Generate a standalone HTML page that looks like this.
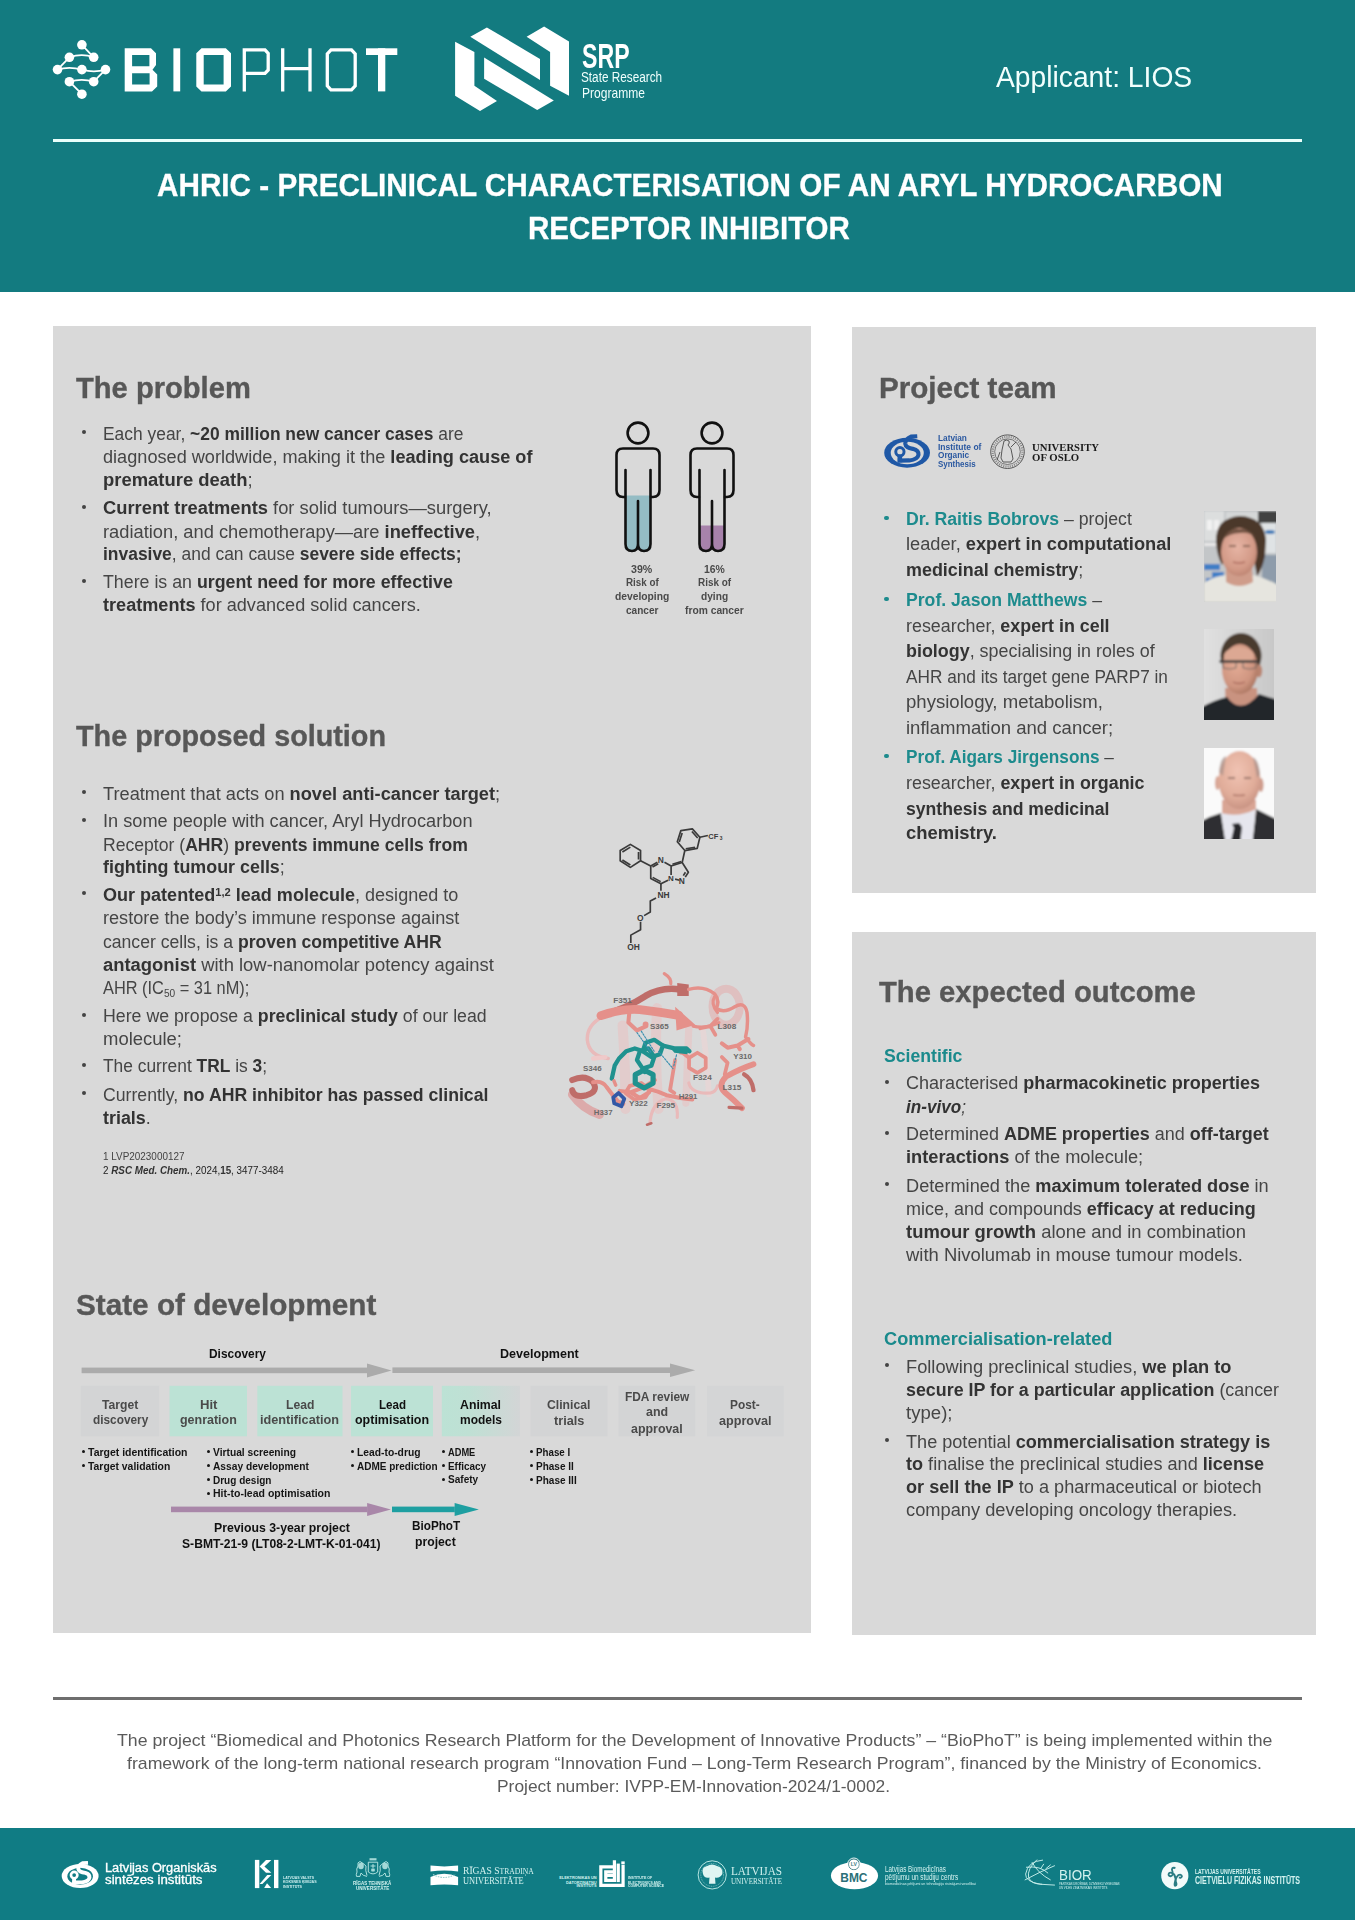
<!DOCTYPE html>
<html><head><meta charset="utf-8"><style>
html,body{margin:0;padding:0;}
body{width:1355px;height:1920px;position:relative;overflow:hidden;background:#fff;font-family:'Liberation Sans', sans-serif;}
.abs{position:absolute;}

.ln{position:absolute;white-space:nowrap;line-height:normal;transform-origin:0 0;}
.ln b{font-weight:bold;}
.ln b{color:#333;}
.ln b.t{color:#1d8b8d;}
.ln sup{font-size:62%;vertical-align:0;position:relative;top:-0.45em;}
.ln sub{font-size:62%;vertical-align:0;position:relative;top:0.25em;}

</style></head><body>
<div class="abs" style="left:0px;top:0px;width:1355px;height:292px;background:#137b80;"></div>
<div class="abs" style="left:53px;top:139px;width:1249px;height:3px;background:#eafffb;"></div>
<svg class="abs" style="left:0;top:0" width="420" height="130" viewBox="0 0 420 130"><g stroke="#fff" stroke-width="1.8" fill="none"><path d="M81.9 44.8 L93.7 57.3"/><path d="M69.4 57.3 Q81.9 53 93.7 57.3"/><path d="M57.5 69.6 L69.4 57.3"/><path d="M57.5 69.6 Q69 66 81.9 69.6 Q94 73 105.5 69.6"/><path d="M105.5 69.6 L93.7 81.7"/><path d="M69.4 81.7 Q81.9 78 93.7 81.7"/><path d="M69.4 81.7 L81.9 94.2"/></g><g fill="#fff"><circle cx="81.9" cy="44.8" r="4.8"/><circle cx="69.4" cy="57.3" r="4.8"/><circle cx="93.7" cy="57.3" r="4.8"/><circle cx="57.5" cy="69.6" r="4.8"/><circle cx="81.9" cy="69.6" r="4.8"/><circle cx="105.5" cy="69.6" r="4.8"/><circle cx="69.4" cy="81.7" r="4.8"/><circle cx="93.7" cy="81.7" r="4.8"/><circle cx="81.9" cy="94.2" r="4.8"/></g><path fill="#fff" fill-rule="evenodd" d="M124.7 48.3 H151 L156 53.3 V65 L152.5 69.8 L157.2 74.5 V86.4 L152 91.4 H124.7 Z M132.1 55.099999999999994 V66.3 H149.4 V55.099999999999994 Z M132.1 73.3 V84.60000000000001 H149.6 V73.3 Z"/><rect x="173.4" y="48.3" width="6.8" height="43.10000000000001" fill="#fff"/><path fill="#fff" fill-rule="evenodd" d="M201.5 48.3 H225.8 L231 53.3 V86.4 L225.8 91.4 H201.5 L196.3 86.4 V53.3 Z M203.7 55.099999999999994 V84.60000000000001 H223.6 V55.099999999999994 Z"/><g stroke="#fff" stroke-width="3.3" fill="none" stroke-linejoin="miter"><path d="M244.3 91.4 V49.9 H265 L268.2 53.3 V70 L265 73.3 H244.3"/><path d="M282.7 48.3 V91.4 M310 48.3 V91.4 M282.7 68.6 H310"/><path d="M331 49.9 H351.5 L355.2 53.8 V85.9 L351.5 89.80000000000001 H331 L327.3 85.9 V53.8 Z"/></g><rect x="366" y="48.3" width="31.3" height="6.7" fill="#fff"/><rect x="378" y="48.3" width="7.3" height="43.10000000000001" fill="#fff"/></svg>
<svg class="abs" style="left:0;top:0" width="700" height="130" viewBox="0 0 700 130"><g fill="#fff"><polygon points="455.1,41.8 474.4,52 474.4,85.7 497,100.9 480,111 455.1,95.8"/><polygon points="470.3,36.8 486.9,27.4 540,58.9 540,80.1"/><polygon points="484.1,57.5 553.8,100.4 537.2,110.1 484.1,78.7"/><polygon points="526.6,36.8 544.1,26.6 569,41.4 569,95.8 550.1,85.7 550.1,52"/></g></svg>
<div class="abs" style="left:53px;top:326px;width:758px;height:1307px;background:#d9d9d9;"></div>
<div class="abs" style="left:852px;top:327px;width:464px;height:566px;background:#d9d9d9;"></div>
<div class="abs" style="left:852px;top:932px;width:464px;height:703px;background:#d9d9d9;"></div>
<div class="abs" style="left:53px;top:1697px;width:1249px;height:3px;background:#6e6e6e;"></div>
<div class="abs" style="left:0px;top:1828px;width:1355px;height:92px;background:#107c84;"></div>
<div class="abs" style="left:81.9px;top:430.1px;width:4.2px;height:4.2px;border-radius:50%;background:#444"></div><div class="abs" style="left:81.9px;top:504.6px;width:4.2px;height:4.2px;border-radius:50%;background:#444"></div><div class="abs" style="left:81.9px;top:578.6px;width:4.2px;height:4.2px;border-radius:50%;background:#444"></div><div class="abs" style="left:81.9px;top:790.3px;width:4.2px;height:4.2px;border-radius:50%;background:#444"></div><div class="abs" style="left:81.9px;top:817.9px;width:4.2px;height:4.2px;border-radius:50%;background:#444"></div><div class="abs" style="left:81.9px;top:891.2px;width:4.2px;height:4.2px;border-radius:50%;background:#444"></div><div class="abs" style="left:81.9px;top:1012.7px;width:4.2px;height:4.2px;border-radius:50%;background:#444"></div><div class="abs" style="left:81.9px;top:1063.0px;width:4.2px;height:4.2px;border-radius:50%;background:#444"></div><div class="abs" style="left:81.9px;top:1091.3px;width:4.2px;height:4.2px;border-radius:50%;background:#444"></div>
<div class="abs" style="left:884.4px;top:515.8px;width:4.2px;height:4.2px;border-radius:50%;background:#1d8b8d"></div><div class="abs" style="left:884.4px;top:596.8px;width:4.2px;height:4.2px;border-radius:50%;background:#1d8b8d"></div><div class="abs" style="left:884.4px;top:753.9px;width:4.2px;height:4.2px;border-radius:50%;background:#1d8b8d"></div>
<div class="abs" style="left:884.9px;top:1079.8px;width:4.2px;height:4.2px;border-radius:50%;background:#444"></div><div class="abs" style="left:884.9px;top:1131.0px;width:4.2px;height:4.2px;border-radius:50%;background:#444"></div><div class="abs" style="left:884.9px;top:1182.1px;width:4.2px;height:4.2px;border-radius:50%;background:#444"></div><div class="abs" style="left:884.9px;top:1363.2px;width:4.2px;height:4.2px;border-radius:50%;background:#444"></div><div class="abs" style="left:884.9px;top:1438.2px;width:4.2px;height:4.2px;border-radius:50%;background:#444"></div>
<svg class="abs" style="left:560px;top:400px" width="240" height="240" viewBox="0 0 240 240"><rect x="65.5" y="95.5" width="25" height="54.5" fill="#94bcc4"/><g fill="none" stroke="#111" stroke-width="2.6" stroke-linejoin="round" stroke-linecap="round"><circle cx="78" cy="33" r="10.4"/><path d="M65 97 L63 97 Q56.5 97 56.5 90 V55 Q56.5 48.5 63 48.5 H93 Q99.5 48.5 99.5 55 V90 Q99.5 97 93 97 L91 97"/><path d="M65.5 70 V144 Q65.5 151 72 151 Q78 151 78 144 V101 M78 144 Q78 151 84 151 Q90.5 151 90.5 144 V70"/></g><rect x="139.5" y="125.5" width="25" height="24.5" fill="#a782ab"/><g fill="none" stroke="#111" stroke-width="2.6" stroke-linejoin="round" stroke-linecap="round"><circle cx="152" cy="33" r="10.4"/><path d="M139 97 L137 97 Q130.5 97 130.5 90 V55 Q130.5 48.5 137 48.5 H167 Q173.5 48.5 173.5 55 V90 Q173.5 97 167 97 L165 97"/><path d="M139.5 70 V144 Q139.5 151 146 151 Q152 151 152 144 V101 M152 144 Q152 151 158 151 Q164.5 151 164.5 144 V70"/></g></svg>
<svg class="abs" style="left:0;top:1340px" width="811" height="200" viewBox="0 1340 811 200"><rect x="81.6" y="1367.6" width="286" height="5.6" fill="#ababab"/><polygon points="367,1363.5 391.6,1370.4 367,1377.4" fill="#ababab"/><rect x="392.4" y="1367.4" width="278" height="5.6" fill="#ababab"/><polygon points="670,1363.5 695.2,1370.2 670,1377" fill="#ababab"/><defs><linearGradient id="g5" x1="0" x2="1" y1="0" y2="0"><stop offset="0" stop-color="#bce2d5"/><stop offset="0.35" stop-color="#bfe0d4"/><stop offset="1" stop-color="#d3d5d6"/></linearGradient></defs><rect x="80.8" y="1385.8" width="78.3" height="50.5" fill="#d3d4d5"/><rect x="169.5" y="1385.8" width="77.5" height="50.5" fill="#bce2d5"/><rect x="257.3" y="1385.8" width="85.2" height="50.5" fill="#bce2d5"/><rect x="351" y="1385.8" width="82.0" height="50.5" fill="#bce2d5"/><rect x="441.8" y="1385.8" width="78.2" height="50.5" fill="url(#g5)"/><rect x="530.5" y="1385.8" width="77.0" height="50.5" fill="#d3d4d5"/><rect x="618.5" y="1385.8" width="76.7" height="50.5" fill="#d3d4d5"/><rect x="707" y="1385.8" width="76.8" height="50.5" fill="#d4d5d6"/><rect x="171" y="1506.6" width="196.5" height="5.6" fill="#a987a9"/><polygon points="367.1,1503 390.9,1509.4 367.1,1516" fill="#a987a9"/><rect x="392" y="1506.6" width="62.8" height="5.6" fill="#1e9fa1"/><polygon points="454.6,1503 478.9,1509.4 454.6,1516" fill="#1e9fa1"/></svg>
<svg class="abs" style="left:1200px;top:505px" width="80" height="340" viewBox="1200 505 80 340"><defs><radialGradient id="sk1" cx="0.45" cy="0.4" r="0.65"><stop offset="0" stop-color="#e6b4a4"/><stop offset="0.7" stop-color="#d39a87"/><stop offset="1" stop-color="#b9806e"/></radialGradient><radialGradient id="sk2" cx="0.4" cy="0.4" r="0.65"><stop offset="0" stop-color="#e4ac96"/><stop offset="0.7" stop-color="#cf9580"/><stop offset="1" stop-color="#a97560"/></radialGradient><radialGradient id="sk3" cx="0.45" cy="0.35" r="0.65"><stop offset="0" stop-color="#f0c3b3"/><stop offset="0.7" stop-color="#e0ac99"/><stop offset="1" stop-color="#c99484"/></radialGradient><linearGradient id="bg2" x1="0" x2="1"><stop offset="0" stop-color="#e2e2e2"/><stop offset="1" stop-color="#c6c6c6"/></linearGradient><filter id="bl" x="-10%" y="-10%" width="120%" height="120%"><feGaussianBlur stdDeviation="0.8"/></filter></defs><clipPath id="c1"><rect x="1204" y="511" width="72" height="91"/></clipPath><g clip-path="url(#c1)"><g filter="url(#bl)"><rect x="1200" y="505" width="80" height="100" fill="#c3c6c8"/><rect x="1204" y="511" width="20" height="30" fill="#dcdede"/><rect x="1207" y="520" width="5" height="10" fill="#f2f2f2"/><rect x="1214" y="520" width="5" height="10" fill="#f0f0f0"/><rect x="1204" y="543" width="20" height="3" fill="#e8e8e8"/><rect x="1226" y="512" width="32" height="10" fill="#d5d8d8"/><rect x="1258" y="511" width="20" height="12" fill="#424242"/><rect x="1262" y="523" width="14" height="30" fill="#dfe3e5"/><rect x="1262" y="555" width="16" height="30" fill="#8e9cab"/><ellipse cx="1270" cy="532" rx="5" ry="2" fill="#3a7ab8"/><path d="M1204 564 h16 v6 h-16 Z M1212 572 h12 v6 h-12 Z M1206 578 h10 v5 h-10 Z" fill="#3f7ec6"/><path d="M1204 602 V583 Q1214 576 1226 575 Q1239 592 1253 575 Q1266 578 1278 585 V602 Z" fill="#e6e5df"/><path d="M1226 568 L1226 582 Q1239 590 1253 582 L1252 568 Z" fill="#cf9c8a"/><path d="M1216 542 Q1215 518 1240 516 Q1264 517 1266 540 L1265 556 Q1262 570 1257 576 L1254 560 L1224 560 L1222 565 Q1217 556 1216 542 Z" fill="#4c372a"/><ellipse cx="1239" cy="552" rx="18" ry="24" fill="url(#sk1)"/><path d="M1222 540 Q1226 527 1240 529 Q1252 528 1257 538 Q1250 532 1240 533 Q1230 533 1222 540 Z" fill="#5a4232" opacity="0.8"/><path d="M1229 546 h7 M1243 546 h7" stroke="#7a5a4a" stroke-width="1.3"/><path d="M1233 562 q6 2 12 0" stroke="#b06e60" stroke-width="1.4" fill="none"/></g></g><clipPath id="c2"><rect x="1204" y="629" width="70" height="91"/></clipPath><g clip-path="url(#c2)"><g filter="url(#bl)"><rect x="1200" y="625" width="80" height="100" fill="url(#bg2)"/><path d="M1225 688 L1226 712 Q1241 718 1258 712 L1257 688 Z" fill="#c99380"/><path d="M1200 725 V708 Q1214 700 1227 697 Q1241 716 1259 694 Q1268 697 1278 700 V725 Z" fill="#24252b"/><ellipse cx="1241" cy="656" rx="20.5" ry="23" fill="#4a3a2f"/><ellipse cx="1259" cy="671" rx="3.2" ry="6.5" fill="#b98470"/><ellipse cx="1240" cy="669" rx="18" ry="25" fill="url(#sk2)"/><ellipse cx="1239" cy="656" rx="15" ry="9" fill="#dca893"/><path d="M1219.5 661.5 H1258.5" stroke="#3a3a3a" stroke-width="2.6"/><path d="M1223 663 v5 q7 2 13 0 v-5 M1243 663 v5 q7 2 13 0 v-5" stroke="#5a5a5a" stroke-width="0.8" fill="none"/><path d="M1233 682 q6 3 12 0" stroke="#a86a5c" stroke-width="1.3" fill="none"/></g></g><clipPath id="c3"><rect x="1204" y="748" width="70" height="91"/></clipPath><g clip-path="url(#c3)"><g filter="url(#bl)"><rect x="1200" y="744" width="80" height="100" fill="#fafafa"/><path d="M1222 800 L1222 816 Q1239 822 1256 816 L1256 800 Z" fill="#d9a594"/><path d="M1200 845 V822 Q1210 816 1221 813 L1226 845 Z M1278 845 V820 Q1266 814 1256 809 L1252 845 Z" fill="#2f2f31"/><path d="M1221 813 L1226 845 H1252 L1256 809 Q1239 818 1221 813 Z" fill="#e6e6ee"/><path d="M1232 824 L1239 823 L1242 827 L1240 845 L1230 845 L1234 828 Z" fill="#25252b"/><ellipse cx="1217.5" cy="783" rx="2.6" ry="7" fill="#d9a898"/><ellipse cx="1261" cy="785" rx="2.6" ry="7" fill="#cf9c8c"/><ellipse cx="1239.5" cy="780" rx="21" ry="29" fill="url(#sk3)"/><path d="M1219 772 Q1220 758 1226 756 L1223 776 Z M1260 774 Q1259 760 1253 757 L1257 778 Z" fill="#a9928a" opacity="0.7"/><path d="M1228 778 h7 M1244 778 h7" stroke="#8a6a60" stroke-width="1.3"/><path d="M1233 795 q6 1 12 0" stroke="#b07a6c" stroke-width="1.3" fill="none"/></g></g></svg>
<svg class="abs" style="left:878px;top:430px" width="112" height="45" viewBox="0 0 1355 544"><ellipse cx="352" cy="275" rx="277" ry="180" fill="#1f58a6"/><ellipse cx="354" cy="278" rx="200" ry="135" fill="#d9d9d9"/><path d="M475 75 L400 80 Q328 112 330 165 Q336 214 422 228 Q494 246 490 300 Q478 356 380 368 L240 370" fill="none" stroke="#1f58a6" stroke-width="50"/><circle cx="265" cy="262" r="50" fill="none" stroke="#1f58a6" stroke-width="36"/><rect x="236" y="300" width="56" height="90" fill="#1f58a6"/></svg><svg class="abs" style="left:985px;top:430px" width="45" height="45" viewBox="985 430 45 45"><g fill="none" stroke="#4a4a4a"><circle cx="1007.5" cy="451.7" r="16.8" stroke-width="0.9"/><circle cx="1007.5" cy="451.7" r="12.8" stroke-width="0.7"/><circle cx="1007.5" cy="451.7" r="14.8" stroke-width="2.2" stroke-dasharray="1 1.2" opacity="0.6"/><path d="M1004 441 q3 -2 5 0 q1 2 -1 4 l3 4 l2 10 l-2 3 h-8 l-2 -4 l1 -8 z M1011 447 l5 -5 M1000 452 l-3 8" stroke-width="0.9"/></g></svg>
<svg class="abs" style="left:610px;top:820px" width="120" height="140" viewBox="0 0 1355 1581"><g stroke="#3a3a3a" stroke-width="19" fill="none" stroke-linejoin="round" stroke-linecap="butt"><path d="M115 345 L230 275 L345 345 L345 460 L230 535 L115 460 Z"/><path d="M140 362 L230 306 M322 360 L322 445 M230 508 L140 452"/><path d="M345 460 L460 520"/><path d="M460 520 L535 478 M615 478 L690 520 L690 620 M655 680 L575 720 L460 660 L460 520"/><path d="M480 530 L545 494 M482 648 L572 696"/><path d="M690 520 L815 480 L885 590 L850 645 M735 668 L785 680 M690 520"/><path d="M705 500 L805 468 M852 590 L828 628"/><path d="M815 480 L845 345 L760 245 L800 120 L930 100 L1015 195 L985 320 L845 345"/><path d="M782 248 L815 148 M925 130 L990 203 M960 310 L855 325"/><path d="M1015 195 L1105 175"/><path d="M575 720 L575 800"/><path d="M520 880 L455 915 L455 1040 L385 1080"/><path d="M345 1150 L345 1240 L235 1300 L235 1390"/></g><g fill="#3a3a3a" font-family="Liberation Sans, sans-serif" font-weight="bold"><text x="540" y="485" font-size="95">N</text><text x="655" y="690" font-size="90">N</text><text x="775" y="720" font-size="95">N</text><text x="535" y="878" font-size="95">NH</text><text x="305" y="1140" font-size="95">O</text><text x="195" y="1465" font-size="95">OH</text><text x="1110" y="215" font-size="85">CF</text><text x="1240" y="228" font-size="55">3</text></g></svg>
<svg class="abs" style="left:565px;top:965px" width="195" height="165" viewBox="0 0 1355 1147"><g fill="none" stroke-linecap="round" stroke-linejoin="round"><path d="M400 420 Q420 700 420 1000" stroke="#e2cccc" stroke-width="70"/><path d="M640 300 Q620 650 650 1000" stroke="#e2cccc" stroke-width="70"/><path d="M860 440 Q850 700 840 960" stroke="#e2cccc" stroke-width="50"/><path d="M960 460 Q990 700 1000 900" stroke="#e5d6d6" stroke-width="40"/><ellipse cx="1120" cy="290" rx="95" ry="125" stroke="#dfc0c0" stroke-width="55"/><path d="M260 360 Q150 420 155 520 Q165 630 300 650" stroke="#e9baba" stroke-width="24"/><path d="M590 1100 Q600 960 700 930 Q790 940 780 1060" stroke="#e9baba" stroke-width="22"/><path d="M860 820 Q880 900 1010 890 Q1050 880 1060 840" stroke="#e9baba" stroke-width="22"/><path d="M50 900 Q120 1000 240 1040" stroke="#dcaaaa" stroke-width="60"/><path d="M250 352 Q430 300 560 215 Q670 150 800 170" stroke="#bf6d69" stroke-width="46"/><polygon points="780,125 860,135 860,215 780,215" fill="#bf6d69"/><path d="M690 60 Q740 90 735 130" stroke="#e5908a" stroke-width="22"/><path d="M860 170 Q960 140 1040 200 Q1080 250 1050 300 Q1100 340 1180 290 Q1250 250 1265 330 Q1275 420 1255 500 Q1290 550 1310 560" stroke="#e5908a" stroke-width="24"/><path d="M1040 220 Q1010 270 1060 330" stroke="#e5908a" stroke-width="22"/><path d="M250 352 Q400 300 520 310 Q650 325 790 350" stroke="#e5908a" stroke-width="62"/><polygon points="765,290 905,415 775,455" fill="#e5908a"/><path d="M890 425 Q980 445 1070 400" stroke="#e5908a" stroke-width="22"/><path d="M450 300 L440 400 L500 455 L565 425" stroke="#e5908a" stroke-width="28"/><circle cx="560" cy="412" r="20" fill="#e5908a"/><path d="M940 440 L1010 425 L1045 485 M1010 425 L1060 375" stroke="#e5908a" stroke-width="26"/><path d="M1090 545 L1130 575 L1200 560 L1275 515 M1200 560 L1215 585" stroke="#e5908a" stroke-width="28"/><path d="M1090 640 L1130 680 L1110 760" stroke="#e5908a" stroke-width="26"/><polygon points="920,610 978,645 978,715 920,750 862,715 862,645" stroke="#e5908a" stroke-width="26"/><path d="M810 605 L862 645" stroke="#e5908a" stroke-width="26"/><circle cx="808" cy="605" r="18" fill="#e5908a"/><path d="M765 660 L745 780 L730 870 L760 890" stroke="#e5908a" stroke-width="26"/><path d="M280 640 L195 650" stroke="#efc9c9" stroke-width="30"/><path d="M50 800 Q140 760 195 815 Q235 880 150 905 Q60 925 50 870" stroke="#bf6d69" stroke-width="42"/><path d="M195 815 Q260 800 290 850 Q330 905 365 945 L405 965" stroke="#e5908a" stroke-width="28"/><path d="M380 875 L455 885 L545 850 L625 800 M455 885 L520 925 L585 885 M545 850 L645 880 L705 905 Q790 925 885 935" stroke="#e5908a" stroke-width="28"/><polygon points="450,840 530,820 590,870 560,920 480,935 420,890" stroke="#e5908a" stroke-width="26"/><path d="M1310 690 Q1220 720 1120 775 Q1060 835 1110 885 Q1170 935 1230 995" stroke="#e5908a" stroke-width="40"/><path d="M1310 870 Q1300 790 1245 760" stroke="#bf6d69" stroke-width="30"/><path d="M1140 990 L1230 995" stroke="#bf6d69" stroke-width="22"/><path d="M600 1100 L570 1110" stroke="#bf6d69" stroke-width="18"/><g stroke="#1f928f" stroke-width="30"><path d="M325 790 L345 700 L375 650 L425 600 L485 580 L545 600"/><polygon points="560,540 620,520 680,560 660,620 600,640 540,600"/><polygon points="520,600 580,580 620,640 600,700 540,720 500,660"/><path d="M680 560 L760 580 L845 580 L865 600"/><path d="M560 720 L555 745"/><polygon points="550,730 612,762 612,822 550,855 488,822 488,762" stroke-width="36"/></g><path d="M740 585 L860 590 L850 620 L760 610 Z" fill="#1f928f"/><path d="M340 805 L352 835" stroke="#e5908a" stroke-width="24"/><path d="M335 920 L372 890 L412 930 L392 982 L342 962 Z" stroke="#3358a6" stroke-width="26"/><path d="M500 470 L600 610 M530 460 L620 600 M650 600 L750 720 M775 625 L755 705" stroke="#3a8fb0" stroke-width="8" stroke-dasharray="12 10"/></g><g fill="#6a6a6a" font-family="Liberation Sans, sans-serif" font-weight="bold" font-size="54"><text x="335" y="262" textLength="130" lengthAdjust="spacingAndGlyphs">F351</text><text x="590" y="442" textLength="130" lengthAdjust="spacingAndGlyphs">S365</text><text x="1060" y="442" textLength="130" lengthAdjust="spacingAndGlyphs">L308</text><text x="1170" y="652" textLength="130" lengthAdjust="spacingAndGlyphs">Y310</text><text x="125" y="737" textLength="130" lengthAdjust="spacingAndGlyphs">S346</text><text x="890" y="802" textLength="130" lengthAdjust="spacingAndGlyphs">F324</text><text x="1095" y="867" textLength="130" lengthAdjust="spacingAndGlyphs">L315</text><text x="790" y="932" textLength="130" lengthAdjust="spacingAndGlyphs">H291</text><text x="445" y="982" textLength="130" lengthAdjust="spacingAndGlyphs">Y322</text><text x="635" y="992" textLength="130" lengthAdjust="spacingAndGlyphs">F295</text><text x="200" y="1042" textLength="130" lengthAdjust="spacingAndGlyphs">H337</text></g></svg>
<svg class="abs" style="left:0;top:1840px" width="1355" height="70" viewBox="0 1840 1355 70"><g transform="translate(61.5,1862.3) scale(0.0666)"><ellipse cx="280" cy="205" rx="277" ry="180" fill="#ffffff"/><ellipse cx="280" cy="210" rx="192" ry="128" fill="#107c84"/><path d="M398 8 L323 12 Q243 50 253 102 Q268 150 358 158 Q426 175 420 230 Q408 290 308 302 L163 302" fill="none" stroke="#ffffff" stroke-width="58"/><circle cx="190" cy="192" r="48" fill="none" stroke="#ffffff" stroke-width="40"/><rect x="160" y="230" width="58" height="90" fill="#ffffff"/></g><rect x="254.9" y="1859.9" width="4.4" height="28.2" fill="#ffffff"/><rect x="274" y="1859.9" width="4.4" height="28.2" fill="#ffffff"/><polygon points="266,1859.9 271.4,1859.9 264.4,1866.4 271.4,1872.8 266,1872.8 259.6,1866.4" fill="#ffffff"/><polygon points="267.3,1875.1 271.4,1875.1 262.4,1883.9 259.6,1883.9" fill="#ffffff"/><polygon points="267,1883.2 271.2,1888.1 264.2,1888.1" fill="#ffffff"/><g fill="none" stroke="#c8f0ec" stroke-width="0.9" opacity="0.95"><path d="M368.3 1862.2 H377.7 V1872 Q373 1875.8 368.3 1872 Z"/><path d="M370.5 1866 h5 M373 1864 v8 M371 1869 l4 2 M375 1869 l-4 2"/><path d="M367 1875.5 Q365 1870 366 1866 Q363 1863 360 1861.5 Q357 1862 358 1866 Q356 1869 357 1872 Q355.8 1875 356.5 1876.4 L360 1876.4 L361 1873 Q363 1876 367 1876.4"/><path d="M379 1875.5 Q381 1870 380 1866 Q383 1863 386 1861.5 Q389 1862 388 1866 Q390 1869 389 1872 Q390.2 1875 389.5 1876.4 L386 1876.4 L385 1873 Q383 1876 379 1876.4"/></g><g fill="#c8f0ec" opacity="0.8"><ellipse cx="361" cy="1866" rx="2.8" ry="3.2"/><ellipse cx="385" cy="1866" rx="2.8" ry="3.2"/><rect x="369.5" y="1858.2" width="7" height="2.2"/></g><path d="M430.5 1865.6 Q444.3 1867.2 458.1 1865.6 V1871.6 Q444.3 1869.6 430.5 1871.6 Z" fill="#ffffff"/><path d="M430.5 1877 Q444.3 1870.5 458.1 1877 V1885.2 Q444.3 1883.6 430.5 1885.2 Z" fill="#ffffff"/><path d="M433 1874.5 Q444.3 1880.5 455.6 1874.5" stroke="#9ccfcf" stroke-width="1.1" fill="none" stroke-dasharray="1.6 1"/><g transform="translate(555,1855) scale(0.08489)" fill="none" stroke="#fff" stroke-width="38" stroke-linecap="square"><path d="M700 140 H540 V357 H802 V135"/><path d="M700 80 V300 H598 V198 H680"/><path d="M620 240 H670"/><path d="M745 120 V300"/></g><rect x="621.3" y="1861.4" width="3.4" height="2.8" fill="#fff"/><circle cx="712.2" cy="1874.9" r="14.1" fill="none" stroke="#c8f0ec" stroke-width="0.9"/><circle cx="712.2" cy="1874.9" r="11.4" fill="none" stroke="#c8f0ec" stroke-width="0.5" stroke-dasharray="1 0.8"/><path d="M703 1874 Q701 1867 707 1866 Q712 1863 717 1866 Q723 1867 722.4 1874 Q720 1878.5 715 1877.5 L715.5 1883.8 H709 L709.5 1877.5 Q704 1878.5 703 1874 Z" fill="#dff5f2"/><ellipse cx="854.5" cy="1875.7" rx="23.6" ry="13.6" fill="#ffffff"/><circle cx="853.9" cy="1864.4" r="5.4" fill="#fff" stroke="#3f7f86" stroke-width="0.9"/><circle cx="853.9" cy="1864.4" r="6.4" fill="none" stroke="#fff" stroke-width="0.9"/><text x="853.9" y="1866.4" font-size="5.2" fill="#3f7f86" text-anchor="middle" font-family="Liberation Sans, sans-serif" font-weight="bold">LV</text><text x="840.3" y="1881.6" font-size="12.5" font-weight="bold" fill="#2b6f78" font-family="Liberation Sans, sans-serif" textLength="27.2" lengthAdjust="spacingAndGlyphs">BMC</text><g fill="none" stroke="#c8f0ec" stroke-width="11" transform="translate(1015,1852) scale(0.08489)"><path d="M330 95 Q150 110 125 260 Q120 350 300 380 L470 390"/><path d="M260 90 Q140 200 160 300 Q190 380 320 380"/><path d="M130 180 Q300 160 390 250"/><path d="M115 330 Q300 230 470 160"/><path d="M200 120 Q270 250 420 330"/><path d="M300 200 L340 140 M360 200 L420 150"/></g><circle cx="1174.8" cy="1875.7" r="13.6" fill="#f2fbfa"/><g transform="translate(1150,1855) scale(0.11808)" fill="none" stroke="#2b7d84" stroke-width="16"><path d="M215 110 Q175 100 190 140 Q200 175 175 180 Q150 175 160 155 Q175 140 205 165 Q225 200 210 235 Q205 260 215 260 Q230 255 220 230 Q210 200 240 170 Q265 160 270 180 Q265 200 245 190"/></g></svg>
<div class="abs" style="left:81.7px;top:1450.2px;width:3.2px;height:3.2px;border-radius:50%;background:#151515"></div><div class="abs" style="left:81.7px;top:1464.1px;width:3.2px;height:3.2px;border-radius:50%;background:#151515"></div><div class="abs" style="left:206.9px;top:1450.2px;width:3.2px;height:3.2px;border-radius:50%;background:#151515"></div><div class="abs" style="left:206.9px;top:1464.1px;width:3.2px;height:3.2px;border-radius:50%;background:#151515"></div><div class="abs" style="left:206.9px;top:1477.9px;width:3.2px;height:3.2px;border-radius:50%;background:#151515"></div><div class="abs" style="left:206.9px;top:1491.7px;width:3.2px;height:3.2px;border-radius:50%;background:#151515"></div><div class="abs" style="left:350.9px;top:1450.2px;width:3.2px;height:3.2px;border-radius:50%;background:#151515"></div><div class="abs" style="left:350.9px;top:1464.1px;width:3.2px;height:3.2px;border-radius:50%;background:#151515"></div><div class="abs" style="left:441.9px;top:1450.0px;width:3.2px;height:3.2px;border-radius:50%;background:#151515"></div><div class="abs" style="left:441.9px;top:1463.9px;width:3.2px;height:3.2px;border-radius:50%;background:#151515"></div><div class="abs" style="left:441.9px;top:1477.6px;width:3.2px;height:3.2px;border-radius:50%;background:#151515"></div><div class="abs" style="left:530.3px;top:1450.2px;width:3.2px;height:3.2px;border-radius:50%;background:#151515"></div><div class="abs" style="left:530.3px;top:1464.1px;width:3.2px;height:3.2px;border-radius:50%;background:#151515"></div><div class="abs" style="left:530.3px;top:1477.9px;width:3.2px;height:3.2px;border-radius:50%;background:#151515"></div>
<div class="ln" style="left:996.00px;top:59.65px;font-size:30px;font-family:'Liberation Sans', sans-serif;color:#f2fffd;transform:scaleX(0.9412);">Applicant: LIOS</div><div class="ln" style="left:156.50px;top:167.48px;font-size:32px;font-family:'Liberation Sans', sans-serif;color:#ffffff;font-weight:bold;-webkit-text-stroke:0.3px #fff;transform:scaleX(0.9280);">AHRIC - PRECLINICAL CHARACTERISATION OF AN ARYL HYDROCARBON</div><div class="ln" style="left:528.40px;top:209.58px;font-size:32px;font-family:'Liberation Sans', sans-serif;color:#ffffff;font-weight:bold;-webkit-text-stroke:0.3px #fff;transform:scaleX(0.9221);">RECEPTOR INHIBITOR</div><div class="ln" style="left:75.60px;top:370.75px;font-size:30px;font-family:'Liberation Sans', sans-serif;color:#575757;font-weight:bold;-webkit-text-stroke:0.35px #575757;transform:scaleX(0.9710);">The problem</div><div class="ln" style="left:102.80px;top:423.51px;font-size:17.5px;font-family:'Liberation Sans', sans-serif;color:#454545;transform:scaleX(0.9945);">Each year, <b>~20 million new cancer cases</b> are</div><div class="ln" style="left:102.80px;top:446.51px;font-size:17.5px;font-family:'Liberation Sans', sans-serif;color:#454545;transform:scaleX(1.0365);">diagnosed worldwide, making it the <b>leading cause of</b></div><div class="ln" style="left:102.80px;top:470.31px;font-size:17.5px;font-family:'Liberation Sans', sans-serif;color:#454545;transform:scaleX(1.0535);"><b>premature death</b>;</div><div class="ln" style="left:102.80px;top:498.01px;font-size:17.5px;font-family:'Liberation Sans', sans-serif;color:#454545;transform:scaleX(1.0472);"><b>Current treatments</b> for solid tumours—surgery,</div><div class="ln" style="left:102.80px;top:521.71px;font-size:17.5px;font-family:'Liberation Sans', sans-serif;color:#454545;transform:scaleX(1.0449);">radiation, and chemotherapy—are <b>ineffective</b>,</div><div class="ln" style="left:102.80px;top:544.01px;font-size:17.5px;font-family:'Liberation Sans', sans-serif;color:#454545;transform:scaleX(0.9962);"><b>invasive</b>, and can cause <b>severe side effects;</b></div><div class="ln" style="left:102.80px;top:572.01px;font-size:17.5px;font-family:'Liberation Sans', sans-serif;color:#454545;transform:scaleX(1.0160);">There is an <b>urgent need for more effective</b></div><div class="ln" style="left:102.80px;top:595.01px;font-size:17.5px;font-family:'Liberation Sans', sans-serif;color:#454545;transform:scaleX(1.0342);"><b>treatments</b> for advanced solid cancers.</div><div class="ln" style="left:75.90px;top:718.75px;font-size:30px;font-family:'Liberation Sans', sans-serif;color:#575757;font-weight:bold;-webkit-text-stroke:0.35px #575757;transform:scaleX(0.9588);">The proposed solution</div><div class="ln" style="left:103.20px;top:783.71px;font-size:17.5px;font-family:'Liberation Sans', sans-serif;color:#454545;transform:scaleX(1.0406);">Treatment that acts on <b>novel anti-cancer target</b>;</div><div class="ln" style="left:103.20px;top:811.31px;font-size:17.5px;font-family:'Liberation Sans', sans-serif;color:#454545;transform:scaleX(1.0379);">In some people with cancer, Aryl Hydrocarbon</div><div class="ln" style="left:103.20px;top:835.01px;font-size:17.5px;font-family:'Liberation Sans', sans-serif;color:#454545;transform:scaleX(1.0056);">Receptor (<b>AHR</b>) <b>prevents immune cells from</b></div><div class="ln" style="left:103.20px;top:857.41px;font-size:17.5px;font-family:'Liberation Sans', sans-serif;color:#454545;transform:scaleX(1.0217);"><b>fighting tumour cells</b>;</div><div class="ln" style="left:103.20px;top:884.61px;font-size:17.5px;font-family:'Liberation Sans', sans-serif;color:#454545;transform:scaleX(1.0304);"><b>Our patented<sup>1,2</sup> lead molecule</b>, designed to</div><div class="ln" style="left:103.20px;top:908.31px;font-size:17.5px;font-family:'Liberation Sans', sans-serif;color:#454545;transform:scaleX(1.0359);">restore the body’s immune response against</div><div class="ln" style="left:103.20px;top:931.71px;font-size:17.5px;font-family:'Liberation Sans', sans-serif;color:#454545;transform:scaleX(1.0056);">cancer cells, is a <b>proven competitive AHR</b></div><div class="ln" style="left:103.20px;top:954.71px;font-size:17.5px;font-family:'Liberation Sans', sans-serif;color:#454545;transform:scaleX(1.0518);"><b>antagonist</b> with low-nanomolar potency against</div><div class="ln" style="left:103.20px;top:977.81px;font-size:17.5px;font-family:'Liberation Sans', sans-serif;color:#454545;transform:scaleX(0.9349);">AHR (IC<sub>50</sub> = 31 nM);</div><div class="ln" style="left:103.20px;top:1006.11px;font-size:17.5px;font-family:'Liberation Sans', sans-serif;color:#454545;transform:scaleX(1.0140);">Here we propose a <b>preclinical study</b> of our lead</div><div class="ln" style="left:103.20px;top:1029.11px;font-size:17.5px;font-family:'Liberation Sans', sans-serif;color:#454545;transform:scaleX(1.0547);">molecule;</div><div class="ln" style="left:103.20px;top:1056.41px;font-size:17.5px;font-family:'Liberation Sans', sans-serif;color:#454545;transform:scaleX(0.9917);">The current <b>TRL</b> is <b>3</b>;</div><div class="ln" style="left:103.20px;top:1084.71px;font-size:17.5px;font-family:'Liberation Sans', sans-serif;color:#454545;transform:scaleX(1.0084);">Currently, <b>no AHR inhibitor has passed clinical</b></div><div class="ln" style="left:103.20px;top:1107.71px;font-size:17.5px;font-family:'Liberation Sans', sans-serif;color:#454545;transform:scaleX(1.0235);"><b>trials</b>.</div><div class="ln" style="left:102.50px;top:1150.11px;font-size:10.5px;font-family:'Liberation Sans', sans-serif;color:#444;transform:scaleX(0.9451);">1 LVP2023000127</div><div class="ln" style="left:102.50px;top:1164.21px;font-size:10.5px;font-family:'Liberation Sans', sans-serif;color:#222;transform:scaleX(0.9379);">2 <b><i>RSC Med. Chem.</i></b>, 2024,<b>15</b>, 3477-3484</div><div class="ln" style="left:75.70px;top:1287.65px;font-size:30px;font-family:'Liberation Sans', sans-serif;color:#575757;font-weight:bold;-webkit-text-stroke:0.35px #575757;transform:scaleX(0.9901);">State of development</div><div class="ln" style="left:208.70px;top:1345.99px;font-size:13px;font-family:'Liberation Sans', sans-serif;color:#111;font-weight:bold;transform:scaleX(0.9154);">Discovery</div><div class="ln" style="left:500.40px;top:1346.29px;font-size:13px;font-family:'Liberation Sans', sans-serif;color:#111;font-weight:bold;transform:scaleX(0.9652);">Development</div><div class="ln" style="left:879.20px;top:371.45px;font-size:30px;font-family:'Liberation Sans', sans-serif;color:#575757;font-weight:bold;-webkit-text-stroke:0.35px #575757;transform:scaleX(0.9868);">Project team</div><div class="ln" style="left:905.90px;top:509.21px;font-size:17.5px;font-family:'Liberation Sans', sans-serif;color:#454545;transform:scaleX(1.0094);"><b class='t'>Dr. Raitis Bobrovs</b> – project</div><div class="ln" style="left:905.90px;top:534.41px;font-size:17.5px;font-family:'Liberation Sans', sans-serif;color:#454545;transform:scaleX(1.0416);">leader, <b>expert in computational</b></div><div class="ln" style="left:905.90px;top:560.01px;font-size:17.5px;font-family:'Liberation Sans', sans-serif;color:#454545;transform:scaleX(1.0239);"><b>medicinal chemistry</b>;</div><div class="ln" style="left:905.90px;top:590.21px;font-size:17.5px;font-family:'Liberation Sans', sans-serif;color:#454545;transform:scaleX(1.0076);"><b class='t'>Prof. Jason Matthews</b> –</div><div class="ln" style="left:905.90px;top:616.01px;font-size:17.5px;font-family:'Liberation Sans', sans-serif;color:#454545;transform:scaleX(1.0210);">researcher, <b>expert in cell</b></div><div class="ln" style="left:905.90px;top:641.21px;font-size:17.5px;font-family:'Liberation Sans', sans-serif;color:#454545;transform:scaleX(1.0229);"><b>biology</b>, specialising in roles of</div><div class="ln" style="left:905.90px;top:667.11px;font-size:17.5px;font-family:'Liberation Sans', sans-serif;color:#454545;transform:scaleX(0.9838);">AHR and its target gene PARP7 in</div><div class="ln" style="left:905.90px;top:692.01px;font-size:17.5px;font-family:'Liberation Sans', sans-serif;color:#454545;transform:scaleX(1.0612);">physiology, metabolism,</div><div class="ln" style="left:905.90px;top:717.81px;font-size:17.5px;font-family:'Liberation Sans', sans-serif;color:#454545;transform:scaleX(1.0592);">inflammation and cancer;</div><div class="ln" style="left:905.90px;top:747.31px;font-size:17.5px;font-family:'Liberation Sans', sans-serif;color:#454545;transform:scaleX(0.9836);"><b class='t'>Prof. Aigars Jirgensons</b> –</div><div class="ln" style="left:905.90px;top:773.11px;font-size:17.5px;font-family:'Liberation Sans', sans-serif;color:#454545;transform:scaleX(1.0218);">researcher, <b>expert in organic</b></div><div class="ln" style="left:905.90px;top:799.01px;font-size:17.5px;font-family:'Liberation Sans', sans-serif;color:#454545;transform:scaleX(1.0059);"><b>synthesis and medicinal</b></div><div class="ln" style="left:905.90px;top:823.01px;font-size:17.5px;font-family:'Liberation Sans', sans-serif;color:#454545;transform:scaleX(1.0539);"><b>chemistry.</b></div><div class="ln" style="left:878.70px;top:975.25px;font-size:30px;font-family:'Liberation Sans', sans-serif;color:#575757;font-weight:bold;-webkit-text-stroke:0.35px #575757;transform:scaleX(0.9745);">The expected outcome</div><div class="ln" style="left:884.00px;top:1045.03px;font-size:18.5px;font-family:'Liberation Sans', sans-serif;color:#1a8a8c;font-weight:bold;transform:scaleX(0.9532);">Scientific</div><div class="ln" style="left:905.60px;top:1073.21px;font-size:17.5px;font-family:'Liberation Sans', sans-serif;color:#454545;transform:scaleX(1.0310);">Characterised <b>pharmacokinetic properties</b></div><div class="ln" style="left:905.60px;top:1096.51px;font-size:17.5px;font-family:'Liberation Sans', sans-serif;color:#454545;transform:scaleX(0.9775);"><b><i>in-vivo</i></b><i>;</i></div><div class="ln" style="left:905.60px;top:1124.41px;font-size:17.5px;font-family:'Liberation Sans', sans-serif;color:#454545;transform:scaleX(1.0274);">Determined <b>ADME properties</b> and <b>off-target</b></div><div class="ln" style="left:905.60px;top:1147.31px;font-size:17.5px;font-family:'Liberation Sans', sans-serif;color:#454545;transform:scaleX(1.0421);"><b>interactions</b> of the molecule;</div><div class="ln" style="left:905.60px;top:1175.51px;font-size:17.5px;font-family:'Liberation Sans', sans-serif;color:#454545;transform:scaleX(1.0387);">Determined the <b>maximum tolerated dose</b> in</div><div class="ln" style="left:905.60px;top:1199.41px;font-size:17.5px;font-family:'Liberation Sans', sans-serif;color:#454545;transform:scaleX(1.0272);">mice, and compounds <b>efficacy at reducing</b></div><div class="ln" style="left:905.60px;top:1221.71px;font-size:17.5px;font-family:'Liberation Sans', sans-serif;color:#454545;transform:scaleX(1.0532);"><b>tumour growth</b> alone and in combination</div><div class="ln" style="left:905.60px;top:1245.01px;font-size:17.5px;font-family:'Liberation Sans', sans-serif;color:#454545;transform:scaleX(1.0531);">with Nivolumab in mouse tumour models.</div><div class="ln" style="left:884.00px;top:1327.83px;font-size:18.5px;font-family:'Liberation Sans', sans-serif;color:#1a8a8c;font-weight:bold;transform:scaleX(0.9830);">Commercialisation-related</div><div class="ln" style="left:905.60px;top:1356.61px;font-size:17.5px;font-family:'Liberation Sans', sans-serif;color:#454545;transform:scaleX(1.0426);">Following preclinical studies, <b>we plan to</b></div><div class="ln" style="left:905.60px;top:1379.81px;font-size:17.5px;font-family:'Liberation Sans', sans-serif;color:#454545;transform:scaleX(1.0209);"><b>secure IP for a particular application</b> (cancer</div><div class="ln" style="left:905.60px;top:1403.11px;font-size:17.5px;font-family:'Liberation Sans', sans-serif;color:#454545;transform:scaleX(1.0621);">type);</div><div class="ln" style="left:905.60px;top:1431.61px;font-size:17.5px;font-family:'Liberation Sans', sans-serif;color:#454545;transform:scaleX(1.0346);">The potential <b>commercialisation strategy is</b></div><div class="ln" style="left:905.60px;top:1454.21px;font-size:17.5px;font-family:'Liberation Sans', sans-serif;color:#454545;transform:scaleX(1.0340);"><b>to</b> finalise the preclinical studies and <b>license</b></div><div class="ln" style="left:905.60px;top:1477.21px;font-size:17.5px;font-family:'Liberation Sans', sans-serif;color:#454545;transform:scaleX(1.0356);"><b>or sell the IP</b> to a pharmaceutical or biotech</div><div class="ln" style="left:905.60px;top:1500.41px;font-size:17.5px;font-family:'Liberation Sans', sans-serif;color:#454545;transform:scaleX(1.0440);">company developing oncology therapies.</div><div class="ln" style="left:116.80px;top:1730.65px;font-size:17px;font-family:'Liberation Sans', sans-serif;color:#5a5a5a;transform:scaleX(1.0406);">The project “Biomedical and Photonics Research Platform for the Development of Innovative Products” – “BioPhoT” is being implemented within the</div><div class="ln" style="left:126.60px;top:1753.65px;font-size:17px;font-family:'Liberation Sans', sans-serif;color:#5a5a5a;transform:scaleX(1.0400);">framework of the long-term national research program “Innovation Fund – Long-Term Research Program”, financed by the Ministry of Economics.</div><div class="ln" style="left:497.30px;top:1776.65px;font-size:17px;font-family:'Liberation Sans', sans-serif;color:#5a5a5a;transform:scaleX(1.0221);">Project number: IVPP-EM-Innovation-2024/1-0002.</div><div class="ln" style="left:102.30px;top:1396.89px;font-size:13px;font-family:'Liberation Sans', sans-serif;color:#4a4a4a;font-weight:bold;transform:scaleX(0.9338);">Target</div><div class="ln" style="left:92.70px;top:1412.39px;font-size:13px;font-family:'Liberation Sans', sans-serif;color:#4a4a4a;font-weight:bold;transform:scaleX(0.9110);">discovery</div><div class="ln" style="left:199.70px;top:1396.89px;font-size:13px;font-family:'Liberation Sans', sans-serif;color:#4a4a4a;font-weight:bold;transform:scaleX(1.0090);">Hit</div><div class="ln" style="left:179.80px;top:1412.39px;font-size:13px;font-family:'Liberation Sans', sans-serif;color:#4a4a4a;font-weight:bold;transform:scaleX(0.9589);">genration</div><div class="ln" style="left:285.70px;top:1396.89px;font-size:13px;font-family:'Liberation Sans', sans-serif;color:#4a4a4a;font-weight:bold;transform:scaleX(0.9359);">Lead</div><div class="ln" style="left:260.40px;top:1412.39px;font-size:13px;font-family:'Liberation Sans', sans-serif;color:#4a4a4a;font-weight:bold;transform:scaleX(0.9766);">identification</div><div class="ln" style="left:378.70px;top:1396.69px;font-size:13px;font-family:'Liberation Sans', sans-serif;color:#111;font-weight:bold;transform:scaleX(0.8898);">Lead</div><div class="ln" style="left:355.20px;top:1412.19px;font-size:13px;font-family:'Liberation Sans', sans-serif;color:#111;font-weight:bold;transform:scaleX(0.9588);">optimisation</div><div class="ln" style="left:459.90px;top:1396.69px;font-size:13px;font-family:'Liberation Sans', sans-serif;color:#111;font-weight:bold;transform:scaleX(0.9459);">Animal</div><div class="ln" style="left:459.60px;top:1412.19px;font-size:13px;font-family:'Liberation Sans', sans-serif;color:#111;font-weight:bold;transform:scaleX(0.9228);">models</div><div class="ln" style="left:547.00px;top:1397.09px;font-size:13px;font-family:'Liberation Sans', sans-serif;color:#4a4a4a;font-weight:bold;transform:scaleX(0.9384);">Clinical</div><div class="ln" style="left:553.50px;top:1413.29px;font-size:13px;font-family:'Liberation Sans', sans-serif;color:#4a4a4a;font-weight:bold;transform:scaleX(0.9782);">trials</div><div class="ln" style="left:625.00px;top:1388.79px;font-size:13px;font-family:'Liberation Sans', sans-serif;color:#4a4a4a;font-weight:bold;transform:scaleX(0.9143);">FDA review</div><div class="ln" style="left:645.90px;top:1404.49px;font-size:13px;font-family:'Liberation Sans', sans-serif;color:#4a4a4a;font-weight:bold;transform:scaleX(0.9557);">and</div><div class="ln" style="left:631.10px;top:1420.69px;font-size:13px;font-family:'Liberation Sans', sans-serif;color:#4a4a4a;font-weight:bold;transform:scaleX(0.9541);">approval</div><div class="ln" style="left:730.00px;top:1397.09px;font-size:13px;font-family:'Liberation Sans', sans-serif;color:#4a4a4a;font-weight:bold;transform:scaleX(0.9108);">Post-</div><div class="ln" style="left:718.80px;top:1413.29px;font-size:13px;font-family:'Liberation Sans', sans-serif;color:#4a4a4a;font-weight:bold;transform:scaleX(0.9707);">approval</div><div class="ln" style="left:87.80px;top:1445.82px;font-size:11.5px;font-family:'Liberation Sans', sans-serif;color:#151515;font-weight:bold;transform:scaleX(0.9125);">Target identification</div><div class="ln" style="left:87.80px;top:1459.72px;font-size:11.5px;font-family:'Liberation Sans', sans-serif;color:#151515;font-weight:bold;transform:scaleX(0.9027);">Target validation</div><div class="ln" style="left:213.00px;top:1445.82px;font-size:11.5px;font-family:'Liberation Sans', sans-serif;color:#151515;font-weight:bold;transform:scaleX(0.8914);">Virtual screening</div><div class="ln" style="left:213.00px;top:1459.72px;font-size:11.5px;font-family:'Liberation Sans', sans-serif;color:#151515;font-weight:bold;transform:scaleX(0.8878);">Assay development</div><div class="ln" style="left:213.00px;top:1473.52px;font-size:11.5px;font-family:'Liberation Sans', sans-serif;color:#151515;font-weight:bold;transform:scaleX(0.8704);">Drug design</div><div class="ln" style="left:213.00px;top:1487.32px;font-size:11.5px;font-family:'Liberation Sans', sans-serif;color:#151515;font-weight:bold;transform:scaleX(0.9142);">Hit-to-lead optimisation</div><div class="ln" style="left:357.00px;top:1445.82px;font-size:11.5px;font-family:'Liberation Sans', sans-serif;color:#151515;font-weight:bold;transform:scaleX(0.8955);">Lead-to-drug</div><div class="ln" style="left:357.00px;top:1459.72px;font-size:11.5px;font-family:'Liberation Sans', sans-serif;color:#151515;font-weight:bold;transform:scaleX(0.8700);">ADME prediction</div><div class="ln" style="left:448.00px;top:1445.62px;font-size:11.5px;font-family:'Liberation Sans', sans-serif;color:#151515;font-weight:bold;transform:scaleX(0.8059);">ADME</div><div class="ln" style="left:448.00px;top:1459.52px;font-size:11.5px;font-family:'Liberation Sans', sans-serif;color:#151515;font-weight:bold;transform:scaleX(0.8592);">Efficacy</div><div class="ln" style="left:448.00px;top:1473.22px;font-size:11.5px;font-family:'Liberation Sans', sans-serif;color:#151515;font-weight:bold;transform:scaleX(0.8746);">Safety</div><div class="ln" style="left:536.40px;top:1445.82px;font-size:11.5px;font-family:'Liberation Sans', sans-serif;color:#151515;font-weight:bold;transform:scaleX(0.8490);">Phase I</div><div class="ln" style="left:536.40px;top:1459.72px;font-size:11.5px;font-family:'Liberation Sans', sans-serif;color:#151515;font-weight:bold;transform:scaleX(0.8696);">Phase II</div><div class="ln" style="left:536.40px;top:1473.52px;font-size:11.5px;font-family:'Liberation Sans', sans-serif;color:#151515;font-weight:bold;transform:scaleX(0.8720);">Phase III</div><div class="ln" style="left:213.80px;top:1519.79px;font-size:13px;font-family:'Liberation Sans', sans-serif;color:#111;font-weight:bold;transform:scaleX(0.9444);">Previous 3-year project</div><div class="ln" style="left:182.00px;top:1535.99px;font-size:13px;font-family:'Liberation Sans', sans-serif;color:#111;font-weight:bold;transform:scaleX(0.9331);">S-BMT-21-9 (LT08-2-LMT-K-01-041)</div><div class="ln" style="left:411.80px;top:1518.09px;font-size:13px;font-family:'Liberation Sans', sans-serif;color:#111;font-weight:bold;transform:scaleX(0.9020);">BioPhoT</div><div class="ln" style="left:415.40px;top:1534.29px;font-size:13px;font-family:'Liberation Sans', sans-serif;color:#111;font-weight:bold;transform:scaleX(0.9390);">project</div><div class="ln" style="left:581.70px;top:35.93px;font-size:35px;font-family:'Liberation Sans', sans-serif;color:#ffffff;font-weight:bold;transform:scaleX(0.6614);">SRP</div><div class="ln" style="left:581.20px;top:68.46px;font-size:15.3px;font-family:'Liberation Sans', sans-serif;color:#f0fffd;transform:scaleX(0.7692);">State Research</div><div class="ln" style="left:581.50px;top:83.82px;font-size:15px;font-family:'Liberation Sans', sans-serif;color:#f0fffd;transform:scaleX(0.8027);">Programme</div><div class="ln" style="left:937.90px;top:434.34px;font-size:8.2px;font-family:'Liberation Sans', sans-serif;color:#2a58a0;font-weight:bold;transform:scaleX(1.0080);">Latvian</div><div class="ln" style="left:937.90px;top:442.94px;font-size:8.2px;font-family:'Liberation Sans', sans-serif;color:#2a58a0;font-weight:bold;transform:scaleX(1.0372);">Institute of</div><div class="ln" style="left:937.90px;top:451.24px;font-size:8.2px;font-family:'Liberation Sans', sans-serif;color:#2a58a0;font-weight:bold;transform:scaleX(1.0047);">Organic</div><div class="ln" style="left:937.90px;top:459.54px;font-size:8.2px;font-family:'Liberation Sans', sans-serif;color:#2a58a0;font-weight:bold;transform:scaleX(0.9719);">Synthesis</div><div class="ln" style="left:1031.80px;top:441.06px;font-size:11px;font-family:'Liberation Serif', serif;color:#1a1a1a;font-weight:bold;transform:scaleX(0.9699);">UNIVERSITY</div><div class="ln" style="left:1031.80px;top:450.87px;font-size:11px;font-family:'Liberation Serif', serif;color:#1a1a1a;font-weight:bold;transform:scaleX(0.9795);">OF OSLO</div><div class="ln" style="left:104.80px;top:1860.84px;font-size:12.5px;font-family:'Liberation Sans', sans-serif;color:#ffffff;-webkit-text-stroke:0.3px #fff;transform:scaleX(1.0231);">Latvijas Organiskās</div><div class="ln" style="left:104.80px;top:1873.24px;font-size:12.5px;font-family:'Liberation Sans', sans-serif;color:#ffffff;-webkit-text-stroke:0.3px #fff;transform:scaleX(1.0630);">sintēzes institūts</div><div class="ln" style="left:283.00px;top:1874.78px;font-size:4.2px;font-family:'Liberation Sans', sans-serif;color:#cdeeee;font-weight:bold;transform:scaleX(0.8308);">LATVIJAS VALSTS</div><div class="ln" style="left:283.00px;top:1879.48px;font-size:4.2px;font-family:'Liberation Sans', sans-serif;color:#cdeeee;font-weight:bold;transform:scaleX(0.8647);">KOKSNES ĶĪMIJAS</div><div class="ln" style="left:283.00px;top:1884.08px;font-size:4.2px;font-family:'Liberation Sans', sans-serif;color:#cdeeee;font-weight:bold;transform:scaleX(0.8780);">INSTITŪTS</div><div class="ln" style="left:353.40px;top:1879.60px;font-size:5.2px;font-family:'Liberation Sans', sans-serif;color:#d3f2ef;font-weight:bold;transform:scaleX(0.8628);">RĪGAS TEHNISKĀ</div><div class="ln" style="left:356.10px;top:1885.40px;font-size:5.2px;font-family:'Liberation Sans', sans-serif;color:#d3f2ef;font-weight:bold;transform:scaleX(0.8752);">UNIVERSITĀTE</div><div class="ln" style="left:463.20px;top:1864.81px;font-size:10.5px;font-family:'Liberation Serif', serif;color:#d3f2ef;transform:scaleX(0.9128);">RĪGAS S<span style='font-size:80%'>TRADIŅA</span></div><div class="ln" style="left:463.20px;top:1875.01px;font-size:10.5px;font-family:'Liberation Serif', serif;color:#d3f2ef;transform:scaleX(0.8005);">UNIVERSITĀTE</div><div class="ln" style="left:559.19px;top:1875.35px;font-size:3.9px;font-family:'Liberation Sans', sans-serif;color:#d3f2ef;font-weight:bold;">ELEKTRONIKAS UN</div><div class="ln" style="left:566.05px;top:1879.55px;font-size:3.9px;font-family:'Liberation Sans', sans-serif;color:#d3f2ef;font-weight:bold;">DATORZINĀTŅU</div><div class="ln" style="left:576.49px;top:1883.35px;font-size:3.9px;font-family:'Liberation Sans', sans-serif;color:#d3f2ef;font-weight:bold;">INSTITŪTS</div><div class="ln" style="left:627.60px;top:1875.35px;font-size:3.9px;font-family:'Liberation Sans', sans-serif;color:#d3f2ef;font-weight:bold;transform:scaleX(0.9100);">INSTITUTE OF</div><div class="ln" style="left:627.60px;top:1879.55px;font-size:3.9px;font-family:'Liberation Sans', sans-serif;color:#d3f2ef;font-weight:bold;transform:scaleX(0.8886);">ELECTRONICS AND</div><div class="ln" style="left:627.60px;top:1883.35px;font-size:3.9px;font-family:'Liberation Sans', sans-serif;color:#d3f2ef;font-weight:bold;transform:scaleX(0.8883);">COMPUTER SCIENCE</div><div class="ln" style="left:731.00px;top:1864.63px;font-size:11.6px;font-family:'Liberation Serif', serif;color:#d3f2ef;transform:scaleX(0.9654);">LATVIJAS</div><div class="ln" style="left:731.00px;top:1876.52px;font-size:8px;font-family:'Liberation Serif', serif;color:#d3f2ef;transform:scaleX(0.8826);">UNIVERSITĀTE</div><div class="ln" style="left:885.20px;top:1863.65px;font-size:8.3px;font-family:'Liberation Sans', sans-serif;color:#d3f2ef;transform:scaleX(0.7576);">Latvijas Biomedicīnas</div><div class="ln" style="left:885.20px;top:1871.85px;font-size:8.3px;font-family:'Liberation Sans', sans-serif;color:#d3f2ef;transform:scaleX(0.7742);">pētījumu un studiju centrs</div><div class="ln" style="left:885.20px;top:1881.91px;font-size:3.6px;font-family:'Liberation Sans', sans-serif;color:#d3f2ef;transform:scaleX(1.0156);">biomedicīnas pētījumi un tehnoloģiju risinājumi veselībai</div><div class="ln" style="left:1059.10px;top:1865.92px;font-size:15px;font-family:'Liberation Sans', sans-serif;color:#d3f2ef;transform:scaleX(0.8913);">BIOR</div><div class="ln" style="left:1059.10px;top:1882.49px;font-size:3.4px;font-family:'Liberation Sans', sans-serif;color:#d3f2ef;transform:scaleX(0.8120);">PĀRTIKAS DROŠĪBAS, DZĪVNIEKU VESELĪBAS</div><div class="ln" style="left:1059.10px;top:1886.39px;font-size:3.4px;font-family:'Liberation Sans', sans-serif;color:#d3f2ef;transform:scaleX(0.8260);">UN VIDES ZINĀTNISKAIS INSTITŪTS</div><div class="ln" style="left:1194.90px;top:1866.75px;font-size:7.4px;font-family:'Liberation Sans', sans-serif;color:#d3f2ef;font-weight:bold;transform:scaleX(0.6796);">LATVIJAS UNIVERSITĀTES</div><div class="ln" style="left:1194.90px;top:1875.05px;font-size:10px;font-family:'Liberation Sans', sans-serif;color:#d3f2ef;font-weight:bold;transform:scaleX(0.7085);">CIETVIELU FIZIKAS INSTITŪTS</div><div class="ln" style="left:630.80px;top:562.97px;font-size:11px;font-family:'Liberation Sans', sans-serif;color:#4a4a4a;font-weight:bold;transform:scaleX(0.9668);">39%</div><div class="ln" style="left:625.50px;top:576.26px;font-size:11px;font-family:'Liberation Sans', sans-serif;color:#4a4a4a;font-weight:bold;transform:scaleX(0.8940);">Risk of</div><div class="ln" style="left:614.60px;top:589.76px;font-size:11px;font-family:'Liberation Sans', sans-serif;color:#4a4a4a;font-weight:bold;transform:scaleX(0.9352);">developing</div><div class="ln" style="left:625.50px;top:603.66px;font-size:11px;font-family:'Liberation Sans', sans-serif;color:#4a4a4a;font-weight:bold;transform:scaleX(0.9159);">cancer</div><div class="ln" style="left:703.80px;top:562.97px;font-size:11px;font-family:'Liberation Sans', sans-serif;color:#4a4a4a;font-weight:bold;transform:scaleX(0.9487);">16%</div><div class="ln" style="left:697.80px;top:576.26px;font-size:11px;font-family:'Liberation Sans', sans-serif;color:#4a4a4a;font-weight:bold;transform:scaleX(0.9022);">Risk of</div><div class="ln" style="left:700.80px;top:589.76px;font-size:11px;font-family:'Liberation Sans', sans-serif;color:#4a4a4a;font-weight:bold;transform:scaleX(0.9235);">dying</div><div class="ln" style="left:684.90px;top:603.66px;font-size:11px;font-family:'Liberation Sans', sans-serif;color:#4a4a4a;font-weight:bold;transform:scaleX(0.9336);">from cancer</div>
</body></html>
